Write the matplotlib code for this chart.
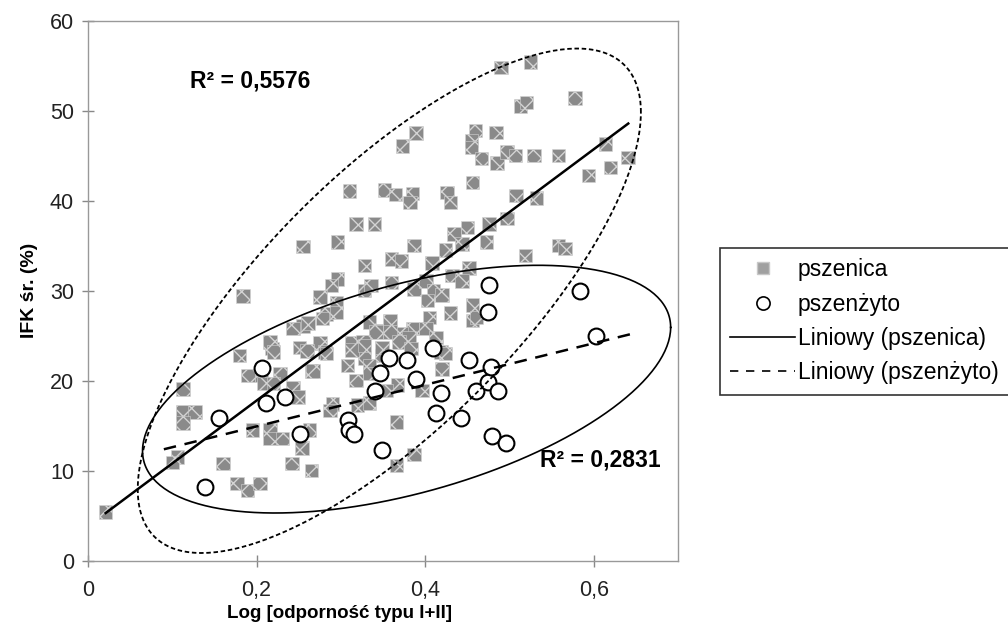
import numpy as np
import matplotlib
matplotlib.use('Agg')
import matplotlib.pyplot as plt
from matplotlib.lines import Line2D

plt.rcParams['font.family'] = ['Liberation Sans', 'DejaVu Sans']
plt.rcParams['hatch.color'] = '#d4d4d4'
plt.rcParams['hatch.linewidth'] = 1.0

# pszenica (wheat) - x = log resistance, y = IFK
wheat_x = [0.49, 0.525, 0.513, 0.52, 0.578,
           0.46, 0.484, 0.455, 0.455, 0.467, 0.485, 0.497, 0.507, 0.529, 0.558, 0.614, 0.641, 0.62, 0.594,
           0.456, 0.426, 0.43, 0.508, 0.532, 0.497, 0.476, 0.45, 0.434,
           0.389, 0.373, 0.31, 0.352, 0.365, 0.385, 0.382,
           0.318, 0.34, 0.255, 0.296, 0.387, 0.328, 0.36, 0.372, 0.408,
           0.424, 0.444, 0.473, 0.519, 0.558, 0.566, 0.432, 0.452, 0.444,
           0.296, 0.289, 0.275, 0.328, 0.336, 0.36, 0.387, 0.401, 0.41, 0.42, 0.403, 0.295,
           0.283, 0.295, 0.255, 0.243, 0.184, 0.358, 0.342, 0.405, 0.385, 0.401, 0.372, 0.43, 0.456, 0.456, 0.461, 0.413,
           0.261, 0.278, 0.334,
           0.342, 0.358, 0.381, 0.313, 0.326, 0.275, 0.281, 0.308, 0.328, 0.349, 0.334, 0.265, 0.251,
           0.218, 0.216, 0.22, 0.18, 0.26, 0.283,
           0.313, 0.328, 0.349, 0.369, 0.383, 0.419, 0.424,
           0.19, 0.206, 0.228, 0.208, 0.22, 0.267, 0.318, 0.334, 0.367, 0.354, 0.42, 0.396,
           0.113, 0.113, 0.127, 0.113,
           0.243, 0.249, 0.29, 0.32, 0.334, 0.287,
           0.366, 0.263, 0.195, 0.216, 0.216, 0.231,
           0.254, 0.242, 0.265, 0.366, 0.387,
           0.106, 0.10, 0.16, 0.177, 0.189, 0.204, 0.021]
wheat_y = [54.8, 55.4, 50.5, 50.9, 51.4,
           47.8, 47.6, 46.7, 45.9, 44.7, 44.2, 45.4, 45.0, 45.0, 45.0, 46.3, 44.8, 43.7, 42.8,
           42.0, 40.9, 39.8, 40.6, 40.3, 38.0, 37.4, 37.0, 36.3,
           47.5, 46.1, 41.1, 41.2, 40.7, 40.8, 39.8,
           37.4, 37.4, 34.9, 35.4, 35.0, 32.8, 33.5, 33.3, 33.1,
           34.5, 35.2, 35.4, 33.9, 35.0, 34.7, 31.7, 32.5, 31.1,
           31.3, 30.6, 29.3, 30.0, 30.6, 30.9, 30.2, 31.1, 30.0, 29.5, 28.9, 28.7,
           27.4, 27.6, 26.1, 25.8, 29.4, 26.7, 25.6, 27.0, 25.8, 25.8, 25.2, 27.5, 28.4, 26.7, 27.0, 24.8,
           26.4, 26.9, 26.5,
           25.4, 25.4, 24.8, 24.2, 24.3, 24.2, 23.2, 21.7, 22.5, 22.8, 21.7, 21.1, 23.7,
           23.6, 24.3, 23.2, 22.8, 23.3, 23.0,
           23.4, 23.9, 23.7, 24.3, 23.6, 23.2, 23.0,
           20.6, 20.6, 20.8, 19.7, 19.7, 21.1, 20.0, 20.8, 19.5, 18.9, 21.3, 18.9,
           19.1, 16.5, 16.5, 15.3,
           19.2, 18.2, 17.4, 17.3, 17.5, 16.7,
           15.4, 14.5, 14.5, 14.5, 13.6, 13.6,
           12.5, 10.8, 10.0, 10.6, 11.8,
           11.5, 10.9, 10.8, 8.6, 7.8, 8.6, 5.4]

# pszenżyto (triticale)
trit_x = [0.139, 0.155, 0.206, 0.211, 0.234, 0.251, 0.308, 0.31, 0.316, 0.34,
          0.346, 0.349, 0.357, 0.379, 0.389, 0.409, 0.413, 0.419, 0.442, 0.452,
          0.46, 0.475, 0.478, 0.486, 0.479, 0.496, 0.474, 0.476, 0.584, 0.603]
trit_y = [8.2, 15.9, 21.4, 17.5, 18.2, 14.1, 15.6, 14.5, 14.1, 18.8,
          20.9, 12.3, 22.5, 22.3, 20.2, 23.6, 16.4, 18.6, 15.8, 22.3,
          18.8, 19.8, 21.5, 18.8, 13.9, 13.1, 27.6, 30.6, 30.0, 25.0]

# trend lines: slope, intercept, x range
wheat_trend = (69.8, 3.83, 0.021, 0.641)
trit_trend = (23.1, 10.3, 0.09, 0.649)
r2_labels = ['R² = 0,5576', 'R² = 0,2831']

fig = plt.figure(figsize=(10.08, 6.37), dpi=100)
ax = fig.add_axes([0.0873, 0.1198, 0.5853, 0.8477])

ax.scatter(wheat_x, wheat_y, marker='s', s=95, facecolor='#8a8a8a',
           edgecolor='#d4d4d4', hatch='xx', linewidth=0.4, zorder=3)
ax.scatter(trit_x, trit_y, marker='o', s=130, facecolor='white',
           edgecolor='black', linewidth=1.5, zorder=4)

for (k, b, x0, x1), ls in [(wheat_trend, '-'), (trit_trend, (0, (5, 3.5)))]:
    xs = np.array([x0, x1])
    ax.plot(xs, k * xs + b, color='black', linestyle=ls, linewidth=1.8, zorder=5)

# ellipses (center, conjugate half-axes in data units)
t = np.linspace(0, 2 * np.pi, 300)
ex = 0.3575 + 0.2985 * np.cos(t)
ey = 28.88 + 20.92 * np.cos(t) + 18.65 * np.sin(t)
ax.plot(ex, ey, color='black', linestyle=(0, (2.5, 1.5)), linewidth=1.3, zorder=6)
ex = 0.378 + 0.3133 * np.cos(t)
ey = 19.06 + 6.86 * np.cos(t) + 11.93 * np.sin(t)
ax.plot(ex, ey, color='black', linestyle='-', linewidth=1.2, zorder=6)

ax.text(0.193, 53.3, r2_labels[0], fontsize=16.5, fontweight='bold', ha='center', va='center')
ax.text(0.608, 11.2, r2_labels[1], fontsize=16.5, fontweight='bold', ha='center', va='center')

ax.set_xlim(0, 0.7)
ax.set_ylim(0, 60)
ax.set_xticks([0, 0.2, 0.4, 0.6])
ax.set_xticklabels(['0', '0,2', '0,4', '0,6'])
ax.set_yticks(np.arange(0, 61, 10))
ax.tick_params(direction='inout', length=8, color='#888888', labelsize=15.5,
               labelcolor='#222222', width=1)
ax.tick_params(axis='y', pad=6)
ax.tick_params(axis='x', pad=10)
for sp in ax.spines.values():
    sp.set_color('#999999')
    sp.set_linestyle((0, (2, 1)))
    sp.set_linewidth(1)

ax.set_xlabel('Log [odporność typu I+II]', fontsize=13.5, fontweight='bold')
ax.xaxis.set_label_coords(0.427, -0.082)
ax.set_ylabel('IFK śr. (%)', fontsize=14, fontweight='bold')
ax.yaxis.set_label_coords(-0.084, 0.5)

handles = [
    Line2D([], [], marker='s', linestyle='none', markersize=8, markerfacecolor='#a0a0a0',
           markeredgecolor='#c8c8c8'),
    Line2D([], [], marker='o', linestyle='none', markersize=9.5, markerfacecolor='white',
           markeredgecolor='black', markeredgewidth=1.2),
    Line2D([], [], color='black', linewidth=1.2),
    Line2D([], [], color='black', linewidth=1.2, linestyle=(0, (5, 4.6))),
]
labels = ['pszenica', 'pszenżyto', 'Liniowy (pszenica)', 'Liniowy (pszenżyto)']
leg = fig.legend(handles, labels, loc='upper left', bbox_to_anchor=(0.714, 0.611),
                 fontsize=16.5, frameon=True, fancybox=False, edgecolor='black',
                 handlelength=2.85, handletextpad=0.1, borderpad=0.45, labelspacing=0.5,
                 borderaxespad=0)
leg.get_frame().set_linewidth(1.2)

fig.savefig('out.png', dpi=100)
